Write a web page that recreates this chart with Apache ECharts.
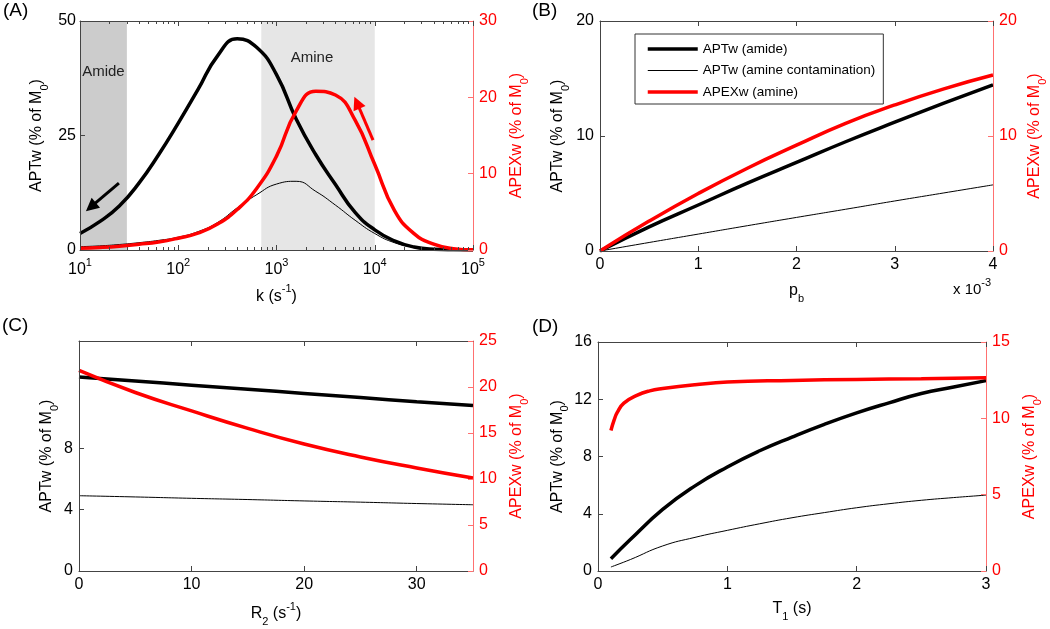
<!DOCTYPE html>
<html><head><meta charset="utf-8">
<script src="https://cdn.jsdelivr.net/npm/echarts@6/dist/echarts.min.js"></script>
<style>html,body{margin:0;padding:0;background:#fff}#c{width:1050px;height:629px}</style>
</head><body><div id="c"></div>
<script>
// ---------- Panel A (log k) ----------
const kValues = [10,15.85,25.12,39.81,63.1,100,158.5,251.2,398.1,631,1000,1585,2512,3981,6310,10000,15850,25120,39810,63100,100000];
const aAmide  = [3.6,6.2,9.6,14.6,20.8,27.7,35.0,42.4,46.1,44.2,38.3,28.6,20.8,14.3,8.2,4.4,2.0,0.65,0.15,0.03,0];
const aContam = [0.73,0.9,1.2,1.6,2.1,2.8,4.0,6.0,9.2,12.1,14.4,15.0,12.8,9.8,6.5,3.6,1.6,0.6,0.15,0.03,0];
const aApex   = [0.22,0.33,0.5,0.75,1.05,1.55,2.2,3.4,5.3,8.1,12.3,18.2,20.8,20.3,17.0,11.2,5.2,2.15,0.77,0.18,0.02];
const kMajor = [10,100,1000,10000,100000];
const amideBand = [10,30];
const amineBand = [700,10000];
const blackArrow = [[24.9,14.6],[12.9,9.4]];
const redArrow = [[9600,14.4],[6590,19.3]];
// ---------- Panel B ----------
const pb = [0,0.5,1,1.5,2,2.5,3,3.5,4];
const bAmide  = [0,2.1,4.0,5.9,7.7,9.5,11.2,12.85,14.45];
const bContam = [0,0.74,1.47,2.2,2.92,3.63,4.35,5.05,5.75];
const bApex   = [0,2.6,5.0,7.2,9.2,11.1,12.7,14.1,15.3];
// ---------- Panel C ----------
const r2 = [0,5,10,15,20,25,30,35];
const cAmide  = [12.66,12.39,12.12,11.85,11.58,11.31,11.04,10.79];
const cContam = [4.91,4.83,4.74,4.66,4.57,4.49,4.40,4.32];
const cApex   = [21.8,19.4,17.4,15.5,13.8,12.4,11.2,10.1];
// ---------- Panel D ----------
const t1 = [0.1,0.25,0.5,0.75,1,1.25,1.5,1.75,2,2.25,2.5,2.75,3];
const dAmide  = [0.86,2.2,4.3,5.95,7.27,8.4,9.36,10.25,11.05,11.75,12.4,12.85,13.3];
const dContam = [0.28,0.8,1.75,2.35,2.84,3.3,3.72,4.08,4.42,4.7,4.94,5.13,5.3];
const t1Red = [0.1,0.125,0.15,0.2,0.3,0.4,0.5,0.75,1,1.5,2,2.5,3];
const dApex = [9.2,9.9,10.4,11.0,11.5,11.8,11.95,12.2,12.38,12.48,12.55,12.6,12.66];

const names = ['APTw (amide)','APTw (amine contamination)','APEXw (amine)'];

const FONT = '"Liberation Sans", Arial, sans-serif';
const AX = '#444';
const RED = '#ff0000';
const RED_AX = '#ff7070';
const zip = (xs, ys) => xs.map((x,i)=>[x, ys[i]]);
const minorLog = [];
for (let d = 1; d <= 4; d++) for (let m = 2; m <= 9; m++) minorLog.push(m*Math.pow(10,d));

function richStyles(color) {
  return {
    sub: {fontSize: 11, fontFamily: FONT, color: color, verticalAlign: 'bottom', lineHeight: 12},
    sup: {fontSize: 11, fontFamily: FONT, color: color, verticalAlign: 'top', lineHeight: 12}
  };
}
function nameStyle(color) {
  return {fontSize: 16, fontFamily: FONT, color: color, lineHeight: 26, rich: richStyles(color)};
}
function axis(o) {
  const color = o.red ? RED : '#000';
  const lineColor = o.red ? RED_AX : AX;
  const a = {
    gridIndex: o.grid, type: o.type || 'value', position: o.position,
    min: o.min, max: o.max, interval: o.interval,
    axisLine: {show: o.line !== false, onZero: false, lineStyle: {color: lineColor, width: 1}},
    axisTick: {show: o.ticks !== false, inside: true, length: o.tickLen || 5, lineStyle: {color: lineColor, width: 1}},
    splitLine: {show: false},
    axisLabel: {show: o.labels !== false, color: color, fontFamily: FONT, fontSize: 16, margin: o.margin || 6,
      formatter: o.formatter, rich: richStyles(color)},
    name: o.name, nameLocation: 'middle', nameGap: o.nameGap, nameTextStyle: nameStyle(color),
    silent: true, z: 5
  };
  if (o.labelLH) a.axisLabel.lineHeight = o.labelLH;
  if (o.type === 'log') a.logBase = 10;
  if (o.tickValues) a.axisTick.customValues = o.tickValues;
  if (o.labelValues) a.axisLabel.customValues = o.labelValues;
  if (o.labelValues && !o.tickValues) a.axisTick.customValues = o.labelValues;
  return a;
}
const logFmt = v => '10{sup|' + Math.round(Math.log10(v)) + '}';

const xAxes = [
  // A (0..3)
  axis({grid:0, type:'log', position:'bottom', min:10, max:100000, labelValues:kMajor, formatter:logFmt, labelLH:26, margin:7, name:'k (s{sup|-1})', nameGap:33}),
  axis({grid:0, type:'log', position:'bottom', min:10, max:100000, line:false, labels:false, tickValues:minorLog, tickLen:3}),
  axis({grid:0, type:'log', position:'top', min:10, max:100000, labels:false, tickValues:kMajor}),
  axis({grid:0, type:'log', position:'top', min:10, max:100000, line:false, labels:false, tickValues:minorLog, tickLen:3}),
  // B (4,5)
  axis({grid:1, position:'bottom', min:0, max:4, interval:1, name:'p{sub|b}', nameGap:27}),
  axis({grid:1, position:'top', min:0, max:4, interval:1, labels:false}),
  // C (6,7)
  axis({grid:2, position:'bottom', min:0, max:35, labelValues:[0,10,20,30], name:'R{sub|2} (s{sup|-1})', nameGap:30}),
  axis({grid:2, position:'top', min:0, max:35, labels:false, tickValues:[0,10,20,30]}),
  // D (8,9)
  axis({grid:3, position:'bottom', min:0, max:3, interval:1, name:'T{sub|1} (s)', nameGap:25}),
  axis({grid:3, position:'top', min:0, max:3, interval:1, labels:false})
];
const yAxes = [
  // A (0,1)
  axis({grid:0, position:'left', min:0, max:50, interval:25, name:'APTw (% of M{sub|0})', nameGap:30, margin:4}),
  axis({grid:0, position:'right', red:true, min:0, max:30, interval:10, name:'APEXw (% of M{sub|0})', nameGap:31}),
  // B (2,3)
  axis({grid:1, position:'left', min:0, max:20, interval:10, name:'APTw (% of M{sub|0})', nameGap:29}),
  axis({grid:1, position:'right', red:true, min:0, max:20, interval:10, name:'APEXw (% of M{sub|0})', nameGap:29}),
  // C (4,5)
  axis({grid:2, position:'left', min:0, max:15, labelValues:[0,4,8], name:'APTw (% of M{sub|0})', nameGap:19}),
  axis({grid:2, position:'right', red:true, min:0, max:25, interval:5, name:'APEXw (% of M{sub|0})', nameGap:31}),
  // D (6,7)
  axis({grid:3, position:'left', min:0, max:16, interval:4, name:'APTw (% of M{sub|0})', nameGap:27}),
  axis({grid:3, position:'right', red:true, min:0, max:15, interval:5, name:'APEXw (% of M{sub|0})', nameGap:31})
];

function line(name, x, y, data, color, width, extra) {
  return Object.assign({
    type: 'line', name: name, xAxisIndex: x, yAxisIndex: y, data: data,
    showSymbol: false, symbol: 'none', smooth: 0.5, silent: true, animation: false,
    lineStyle: {color: color, width: width}, itemStyle: {color: color}, z: 3
  }, extra || {});
}
function arrow(pts, color) {
  return {
    silent: true, symbol: ['none', 'triangle'], symbolSize: 13,
    label: {show: false}, lineStyle: {color: color, width: 3, type: 'solid', opacity: 1},
    itemStyle: {color: color}, animation: false, emphasis: {disabled: true},
    data: [[{coord: pts[0]}, {coord: pts[1]}]]
  };
}

const series = [
  {type: 'line', name: 'bands', xAxisIndex: 0, yAxisIndex: 0, data: [], z: 1, silent: true,
    markArea: {silent: true, animation: false, data: [
      [{xAxis: amideBand[0], itemStyle: {color: '#cccccc'},
        label: {show: true, position: 'insideTop', distance: 43, formatter: 'Amide', color: '#222', fontFamily: FONT, fontSize: 15}},
       {xAxis: amideBand[1]}],
      [{xAxis: amineBand[0], itemStyle: {color: '#e6e6e6'},
        label: {show: true, position: 'insideTop', distance: 29, offset: [-6, 0], formatter: 'Amine', color: '#222', fontFamily: FONT, fontSize: 15}},
       {xAxis: amineBand[1]}]
    ]}},
  line('A1', 0, 0, zip(kValues, aAmide), '#000', 3.5, {markLine: arrow(blackArrow, '#000')}),
  line('A2', 0, 0, zip(kValues, aContam), '#000', 1),
  line('A3', 0, 1, zip(kValues, aApex), RED, 3.5, {markLine: arrow(redArrow, RED)}),
  line(names[0], 4, 2, zip(pb, bAmide), '#000', 3.5),
  line(names[1], 4, 2, zip(pb, bContam), '#000', 1),
  line(names[2], 4, 3, zip(pb, bApex), RED, 3.5),
  line('C1', 6, 4, zip(r2, cAmide), '#000', 3.5),
  line('C2', 6, 4, zip(r2, cContam), '#000', 1),
  line('C3', 6, 5, zip(r2, cApex), RED, 3.5),
  line('D1', 8, 6, zip(t1, dAmide), '#000', 3.5),
  line('D2', 8, 6, zip(t1, dContam), '#000', 1),
  line('D3', 8, 7, zip(t1Red, dApex), RED, 3.5)
];

const panelLabel = (t, x, y) => ({type: 'text', left: x, top: y, silent: true,
  style: {text: t, fontFamily: FONT, fontSize: 19, fill: '#000'}});

const chart = echarts.init(document.getElementById('c'), null, {renderer: 'canvas'});
chart.setOption({
  animation: false,
  backgroundColor: '#fff',
  grid: [
    {left: 80, top: 21, width: 393, height: 229, outerBoundsMode: 'none'},
    {left: 600, top: 21, width: 393, height: 230, outerBoundsMode: 'none'},
    {left: 79, top: 341, width: 394, height: 230, outerBoundsMode: 'none'},
    {left: 598, top: 342, width: 388, height: 229, outerBoundsMode: 'none'}
  ],
  xAxis: xAxes,
  yAxis: yAxes,
  legend: {
    data: names, orient: 'vertical', left: 635, top: 34,
    itemWidth: 50, itemHeight: 14, itemGap: 7.5, padding: [8, 8, 5, 11],
    borderColor: '#333', borderWidth: 1, backgroundColor: '#fff',
    lineStyle: {width: 'inherit'}, itemStyle: {opacity: 0}, selectedMode: false,
    textStyle: {fontFamily: FONT, fontSize: 13.5, color: '#000'}
  },
  graphic: [
    panelLabel('(A)', 3, 1),
    panelLabel('(B)', 532, 1),
    panelLabel('(C)', 2, 316),
    panelLabel('(D)', 532, 317),
    {type: 'text', left: 953, top: 277, silent: true,
      style: {text: 'x 10{sup|-3}', fontFamily: FONT, fontSize: 15, fill: '#000', lineHeight: 26,
        rich: {sup: {fontSize: 11, fontFamily: FONT, fill: '#000', verticalAlign: 'top', lineHeight: 12}}}}
  ],
  series: series
});
</script></body></html>
